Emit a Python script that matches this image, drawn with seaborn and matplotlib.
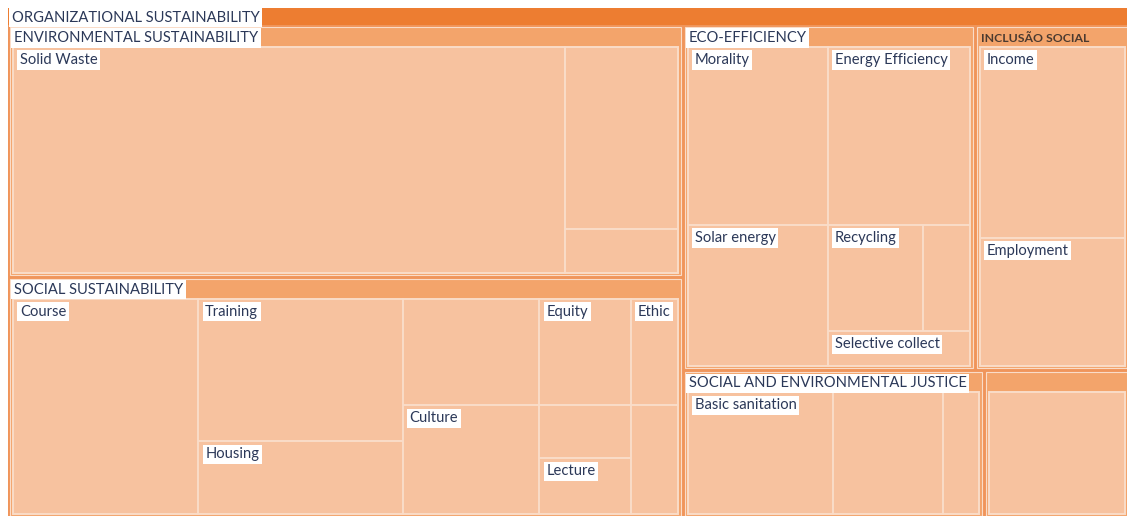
import matplotlib
matplotlib.use("Agg")
import matplotlib.pyplot as plt
from matplotlib.patches import Rectangle
import seaborn as sns

# ---------------- data (%) ----------------
root_label = "ORGANIZATIONAL SUSTAINABILITY"

group_labels = ["ENVIRONMENTAL SUSTAINABILITY", "SOCIAL SUSTAINABILITY", "ECO-EFFICIENCY",
                "INCLUSÃO SOCIAL", "SOCIAL AND ENVIRONMENTAL JUSTICE", ""]

env_labels = ["Solid Waste", "", ""]
env_values = [25.5, 4.2, 1.0]

soc_labels = ["Course", "Training", "Housing", "", "Culture", "Equity", "", "Lecture", "Ethic", ""]
soc_values = [8.2, 6.0, 3.05, 3.0, 3.05, 2.0, 1.0, 1.05, 1.03, 1.05]

eco_labels = ["Morality", "Energy Efficiency", "Solar energy", "Recycling", "", "Selective collect"]
eco_values = [5.05, 5.1, 4.0, 2.05, 1.0, 1.0]

inc_labels = ["Income", "Employment"]
inc_values = [5.8, 3.9]

sej_labels = ["Basic sanitation", "", ""]
sej_values = [4.0, 3.05, 1.0]

oth_labels = [""]
oth_values = [3.9]

# arrangement of the treemap (h = side by side, v = stacked), leaves by index
env_split = ("h", [0, ("v", [1, 2])])
soc_split = ("h", [0, ("v", [1, 2]), ("v", [3, 4]), ("v", [5, 6, 7]), ("v", [8, 9])])
eco_split = ("v", [("h", [0, 1]), ("h", [2, ("v", [("h", [3, 4]), 5])])])
inc_split = ("v", [0, 1])
sej_split = ("h", [0, 1, 2])
oth_split = ("h", [0])
top_split = ("h", [("v", [0, 1]), ("v", [("h", [2, 3]), ("h", [4, 5])])])

groups = [
    (env_labels, env_values, env_split),
    (soc_labels, soc_values, soc_split),
    (eco_labels, eco_values, eco_split),
    (inc_labels, inc_values, inc_split),
    (sej_labels, sej_values, sej_split),
    (oth_labels, oth_values, oth_split),
]

# ---------------- layout ----------------
def node_value(node, values):
    if isinstance(node, int):
        return values[node]
    return sum(node_value(c, values) for c in node[1])

def layout(node, values, x, y, w, h, out):
    if isinstance(node, int):
        out[node] = (x, y, w, h)
        return
    d, children = node
    tot = sum(node_value(c, values) for c in children)
    pos = x if d == "h" else y
    for c in children:
        frac = node_value(c, values) / tot
        if d == "h":
            cw = w * frac
            layout(c, values, pos, y, cw, h, out)
            pos += cw
        else:
            ch = h * frac
            layout(c, values, x, pos, w, ch, out)
            pos += ch

# ---------------- styling ----------------
sns.set_theme(style="white")
plt.rcParams["font.family"] = ["Lato", "DejaVu Sans"]

C_ROOT = "#ED7D31"
C_GAP = "#F0955A"
C_HEAD = "#F3A46B"
C_LEAF = "#F7C29F"
C_LINE = "#FADCC8"
C_TEXT = "#2B3858"
FS = 10.6

W, H = 1127, 516
fig = plt.figure(figsize=(W / 100, H / 100), dpi=100)
ax = fig.add_axes([0, 0, 1, 1])
ax.set_xlim(0, W)
ax.set_ylim(H, 0)
ax.axis("off")

RX0, RY0, RX1, RY1 = 8, 8, 1130, 518
ROOT_HEAD = 17
GPAD = 2
GHEAD = 20
LPAD = 3

ax.add_patch(Rectangle((RX0, RY0), RX1 - RX0, RY1 - RY0, fc=C_GAP, ec="none"))
ax.add_patch(Rectangle((RX0, RY0), RX1 - RX0, ROOT_HEAD, fc=C_ROOT, ec="none"))
box = dict(boxstyle="square,pad=0.18", fc="white", ec="none")
ax.text(RX0 + 4, RY0 + ROOT_HEAD / 2 + 1, root_label, fontsize=FS, color=C_TEXT,
        va="center", ha="left", bbox=box)

group_totals = [sum(v) for _, v, _ in groups]
grects = {}
layout(top_split, group_totals, RX0, RY0 + ROOT_HEAD, RX1 - RX0, RY1 - RY0 - ROOT_HEAD, grects)

for gi, (labels, values, split) in enumerate(groups):
    gx, gy, gw, gh = grects[gi]
    gx += GPAD; gy += GPAD; gw -= 2 * GPAD; gh -= 2 * GPAD
    ax.add_patch(Rectangle((gx, gy), gw, gh, fc=C_HEAD, ec=C_LINE, lw=0.8))
    glab = group_labels[gi]
    if glab:
        if glab == "INCLUSÃO SOCIAL":
            ax.text(gx + 4, gy + GHEAD / 2 + 1, glab, fontsize=8.8, color="#4A3A30",
                    va="center", ha="left", fontweight="bold")
        else:
            ax.text(gx + 4, gy + GHEAD / 2 + 1, glab, fontsize=FS, color=C_TEXT,
                    va="center", ha="left", bbox=box)
    lr = {}
    layout(split, values, gx + LPAD, gy + GHEAD, gw - 2 * LPAD, gh - GHEAD - LPAD + 1, lr)
    for li, lab in enumerate(labels):
        lx, ly, lw_, lh = lr[li]
        ax.add_patch(Rectangle((lx, ly), lw_, lh, fc=C_LEAF, ec=C_LINE, lw=1.4))
        if lab:
            ax.text(lx + 7, ly + 6, lab, fontsize=FS, color=C_TEXT,
                    va="top", ha="left", bbox=box)

fig.savefig("out.png", dpi=100, facecolor="white")
